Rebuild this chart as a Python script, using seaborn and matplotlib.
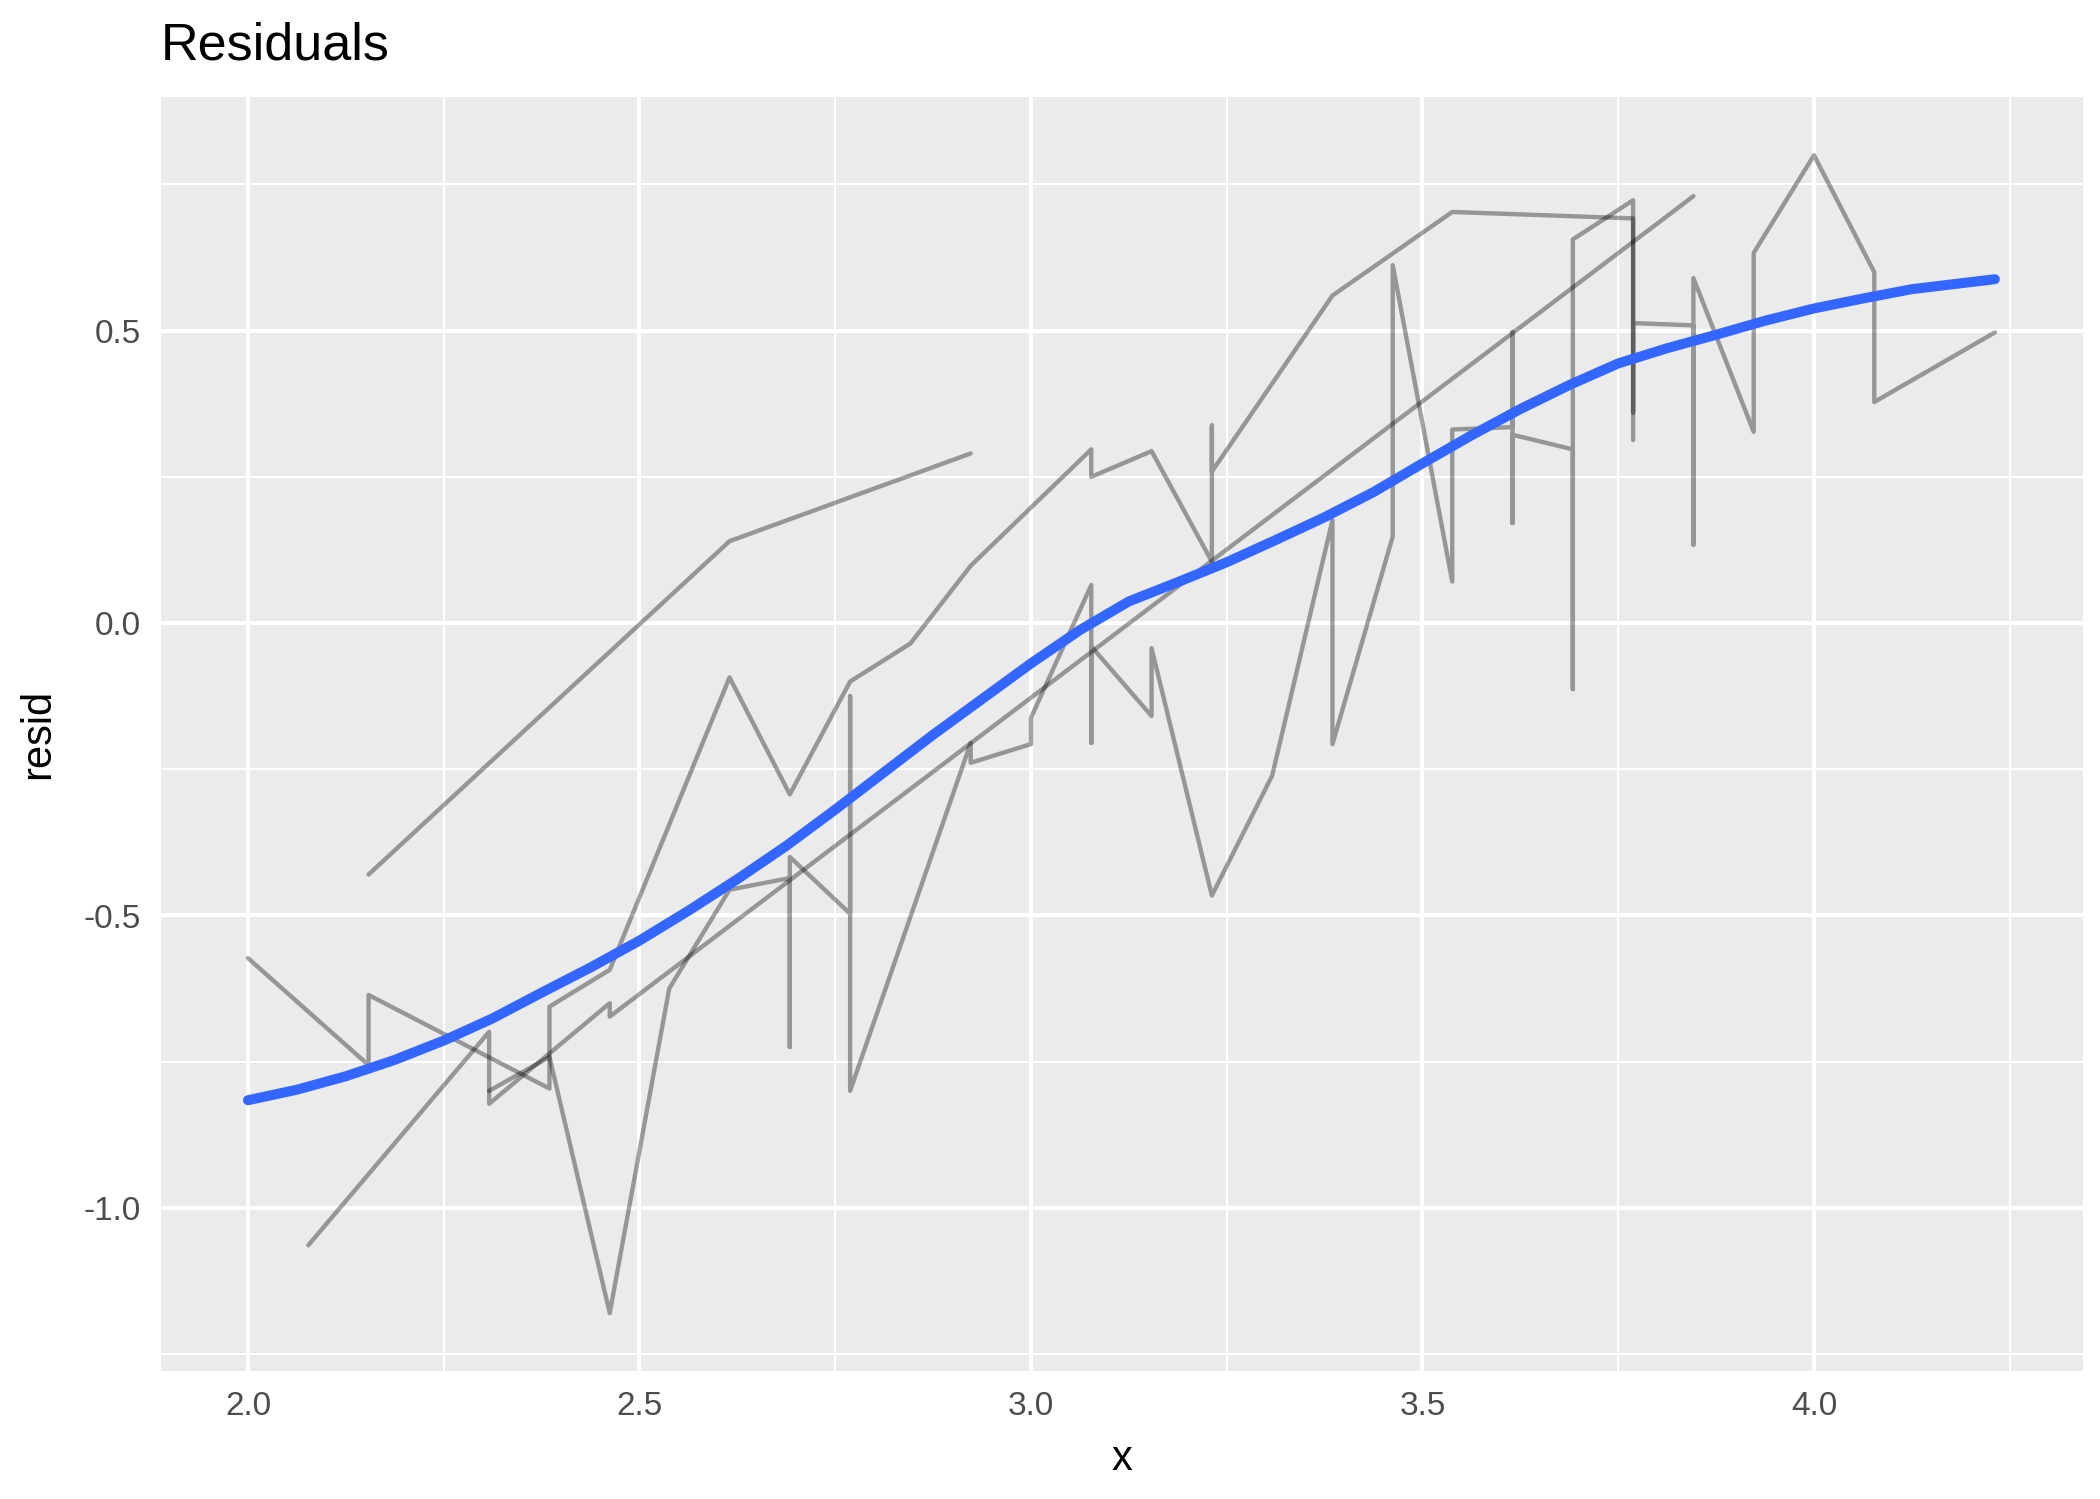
import numpy as np
import pandas as pd
import matplotlib
matplotlib.use("Agg")
import matplotlib.pyplot as plt
from matplotlib.ticker import MultipleLocator, FormatStrFormatter
import seaborn as sns

# ---- data ----
g1_x = [2.154, 2.615, 2.923]
g1_y = [-0.43, 0.14, 0.29]

g2_x = [2.077, 2.308, 2.308, 2.462, 2.462, 3.846]
g2_y = [-1.064, -0.699, -0.822, -0.650, -0.673, 0.730]

g3_x = [2.0, 2.154, 2.154, 2.385, 2.385, 2.462, 2.615, 2.692, 2.769, 2.846,
        2.923, 3.077, 3.077, 3.154, 3.231, 3.231, 3.231, 3.385, 3.538, 3.769,
        3.769, 3.769, 3.846, 3.846, 3.846, 3.923, 3.923, 4.0, 4.077, 4.077, 4.231]
g3_y = [-0.573, -0.756, -0.636, -0.796, -0.656, -0.593, -0.093, -0.293, -0.10, -0.035,
        0.098, 0.297, 0.25, 0.294, 0.105, 0.338, 0.259, 0.56, 0.703, 0.692,
        0.36, 0.513, 0.509, 0.134, 0.59, 0.327, 0.633, 0.80, 0.60, 0.378, 0.497]

g4_x = [2.308, 2.385, 2.462, 2.538, 2.615, 2.692, 2.692, 2.692, 2.769, 2.769,
        2.769, 2.923, 2.923, 3.0, 3.0, 3.077, 3.077, 3.077, 3.154, 3.154,
        3.231, 3.308, 3.385, 3.385, 3.462, 3.462, 3.538, 3.538, 3.615, 3.615,
        3.615, 3.615, 3.692, 3.692, 3.692, 3.769, 3.769]
g4_y = [-0.80, -0.742, -1.18, -0.625, -0.456, -0.436, -0.725, -0.40, -0.497, -0.125,
        -0.80, -0.205, -0.239, -0.207, -0.162, 0.065, -0.205, -0.04, -0.159, -0.043,
        -0.466, -0.261, 0.176, -0.207, 0.148, 0.612, 0.071, 0.331, 0.335, 0.498,
        0.171, 0.322, 0.297, -0.113, 0.656, 0.723, 0.313]

smooth_x = [2.0, 2.0625, 2.125, 2.1875, 2.25, 2.3125, 2.375, 2.4375, 2.5, 2.5625,
            2.625, 2.6875, 2.75, 2.8125, 2.875, 2.9375, 3.0, 3.0625, 3.125, 3.1875,
            3.25, 3.3125, 3.375, 3.4375, 3.5, 3.5625, 3.625, 3.6875, 3.75, 3.8125,
            3.875, 3.9375, 4.0, 4.0625, 4.125, 4.1875, 4.231]
smooth_y = [-0.816, -0.798, -0.775, -0.747, -0.714, -0.676, -0.632, -0.589, -0.543, -0.492,
            -0.438, -0.381, -0.319, -0.255, -0.191, -0.130, -0.069, -0.012, 0.037, 0.070,
            0.104, 0.142, 0.181, 0.224, 0.273, 0.321, 0.366, 0.407, 0.444, 0.470,
            0.493, 0.517, 0.538, 0.555, 0.571, 0.581, 0.588]

x_ticks = [2.0, 2.5, 3.0, 3.5, 4.0]
y_ticks = [-1.0, -0.5, 0.0, 0.5]

groups = [("g1", g1_x, g1_y), ("g2", g2_x, g2_y), ("g3", g3_x, g3_y), ("g4", g4_x, g4_y)]
rows = []
for name, xs, ys in groups:
    for i, (a, b) in enumerate(zip(xs, ys)):
        rows.append({"grp": name, "order": i, "x": a, "resid": b})
df = pd.DataFrame(rows)
smooth = pd.DataFrame({"x": smooth_x, "resid": smooth_y})

# ---- style ----
sns.set_style("darkgrid", {"axes.facecolor": "#EBEBEB", "grid.color": "white"})
plt.rcParams["font.family"] = ["Liberation Sans", "DejaVu Sans"]
plt.rcParams["axes.unicode_minus"] = False

fig = plt.figure(figsize=(7, 4.997), dpi=300)
ax = fig.add_axes([0.0767, 0.0854, 0.915, 0.8496])

sns.lineplot(data=df, x="x", y="resid", units="grp", estimator=None, sort=False,
             color="black", alpha=0.36, linewidth=1.05, ax=ax, legend=False)
l = sns.lineplot(data=smooth, x="x", y="resid", sort=False, color="#3366FF",
                 linewidth=2.4, ax=ax, legend=False)
ax.lines[-1].set_solid_joinstyle("round")

ax.set_xlim(1.889, 4.343)
ax.set_ylim(-1.279, 0.899)
ax.xaxis.set_major_locator(plt.FixedLocator(x_ticks))
ax.yaxis.set_major_locator(plt.FixedLocator(y_ticks))
ax.xaxis.set_minor_locator(MultipleLocator(0.25))
ax.yaxis.set_minor_locator(MultipleLocator(0.25))
ax.xaxis.set_major_formatter(FormatStrFormatter("%.1f"))
ax.yaxis.set_major_formatter(FormatStrFormatter("%.1f"))
ax.grid(which="major", color="white", linewidth=0.95)
ax.grid(which="minor", color="white", linewidth=0.48)
ax.set_axisbelow(True)
for s in ax.spines.values():
    s.set_visible(False)
ax.tick_params(axis="both", which="major", length=2.4, width=0.55, color="#333333",
               labelcolor="#4D4D4D", labelsize=8, pad=2.5)
ax.tick_params(axis="both", which="minor", length=0)

ax.set_xlabel("x", fontsize=10, color="black", labelpad=4)
ax.set_ylabel("resid", fontsize=10, color="black", labelpad=6)
ax.set_title("Residuals", loc="left", fontsize=12.5, color="black", pad=9)

fig.savefig("out.png", dpi=300, facecolor="white")
